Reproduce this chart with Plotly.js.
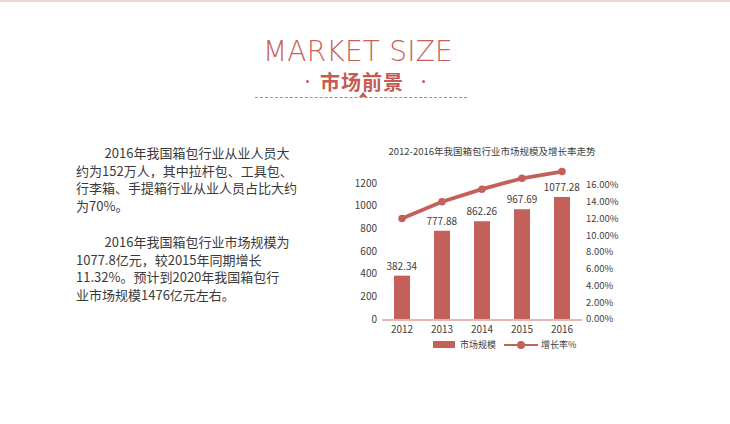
<!DOCTYPE html>
<html><head><meta charset="utf-8">
<script src="https://cdn.plot.ly/plotly-3.0.1.min.js"></script>
<style>
body{margin:0;background:#fff;}
#wrap{position:relative;width:730px;height:424px;overflow:hidden;background:#fff;font-family:"Noto Sans CJK SC","Noto Sans",sans-serif;}
#topline{position:absolute;left:0;top:0;width:730px;height:2px;background:#f3d4d2;}
#mk{position:absolute;left:263px;top:39px;font-family:"DejaVu Sans",sans-serif;font-weight:200;font-size:28px;letter-spacing:0.2px;color:#c8625b;line-height:26px;white-space:nowrap;}
#cn{position:absolute;left:320px;top:73px;font-size:20px;font-weight:bold;color:#c55b53;letter-spacing:1px;line-height:18px;}
.dot{position:absolute;width:3px;height:3px;border-radius:2px;background:#c55b53;top:80px;}
#dash{position:absolute;left:255px;top:97px;width:212px;border-top:1px dashed #d07a74;}
#tri{position:absolute;left:359px;top:92px;width:0;height:0;border-left:4px solid transparent;border-right:4px solid transparent;border-bottom:5px solid #c55b53;}
.para{position:absolute;left:76px;font-size:13px;line-height:17.7px;color:#3a3a3a;white-space:nowrap;}
#chart{position:absolute;left:0;top:0;width:730px;height:424px;}
.lg{position:absolute;font-size:9px;color:#404040;line-height:12px;white-space:nowrap;}
</style></head>
<body><div id="wrap">
<div id="chart"></div>
<div id="topline"></div>
<div id="mk">MARKET SIZE</div>
<div class="dot" style="left:306px"></div>
<div class="dot" style="left:422px"></div>
<div id="cn">市场前景</div>
<div id="dash"></div>
<div id="tri"></div>
<div class="para" id="p1" style="top:144px"></div>
<div class="para" id="p2" style="top:233px"></div>
<div style="position:absolute;left:433px;top:341px;width:22px;height:7px;background:#c3605a"></div>
<div class="lg" id="lg1" style="left:460px;top:339px"></div>
<div style="position:absolute;left:504px;top:344px;width:34px;height:2px;background:#c3605a"></div>
<div style="position:absolute;left:517px;top:341px;width:8px;height:8px;border-radius:4px;background:#c3605a"></div>
<div class="lg" id="lg2" style="left:541px;top:339px"></div>
</div>
<script>
// data
const years = ['2012','2013','2014','2015','2016'];
const marketSize = [382.34, 777.88, 862.26, 967.69, 1077.28];
const marketLabels = ['382.34','777.88','862.26','967.69','1077.28'];
const growthRate = [0.120, 0.140, 0.155, 0.168, 0.176];
const leftTicks = [0,200,400,600,800,1000,1200];
const rightTicks = [0,0.02,0.04,0.06,0.08,0.10,0.12,0.14,0.16];
const chartTitle = '2012-2016年我国箱包行业市场规模及增长率走势';
const seriesNames = ['市场规模','增长率%'];
const para1 = ['\u3000\u3000\u20092016年我国箱包行业从业人员大','约为152万人，其中拉杆包、工具包、','行李箱、手提箱行业从业人员占比大约','为70%。'];
const para2 = ['\u3000\u3000\u20092016年我国箱包行业市场规模为','1077.8亿元，较2015年同期增长','11.32%。预计到2020年我国箱包行','业市场规模1476亿元左右。'];

document.getElementById('p1').innerHTML = para1.join('<br>');
document.getElementById('p2').innerHTML = para2.join('<br>');
document.getElementById('lg1').textContent = seriesNames[0];
document.getElementById('lg2').textContent = seriesNames[1];

const red = '#c4605a';
const W = 730, H = 424;
const font = {family:'"Noto Sans CJK SC","Noto Sans",sans-serif', color:'#404040', size:10};

const traces = [
  {type:'bar', x:years, y:marketSize, name:seriesNames[0], marker:{color:red},
   text:marketLabels, textposition:'outside', constraintext:'none', textfont:{size:10,color:'#404040'}, cliponaxis:false,
   hoverinfo:'x+y'},
  {type:'scatter', mode:'lines+markers', x:years, y:growthRate, name:seriesNames[1], yaxis:'y2',
   line:{color:red, width:3.8}, marker:{color:red, size:7.5}, cliponaxis:false}
];
const yb = 319, yt = 170;
const layout = {
  width:W, height:H, margin:{l:0,r:0,t:0,b:0},
  paper_bgcolor:'rgba(0,0,0,0)', plot_bgcolor:'rgba(0,0,0,0)',
  font:font, showlegend:false, bargap:0.6,
  title:{text:chartTitle, x:492/W, xanchor:'center', y:1-152/H, yanchor:'middle', font:{size:9.5,color:'#404040'}},
  xaxis:{domain:[382/W, 582/W], type:'category', showgrid:false, zeroline:false,
         showline:true, linecolor:'#e8b5b1', linewidth:1.5, ticks:'', tickfont:{size:10,color:'#404040'}, fixedrange:true},
  yaxis:{domain:[1-yb/H, 1-yt/H], range:[0, 1200*(yb-yt)/136], tickvals:leftTicks, showgrid:false, zeroline:false,
         showline:false, ticks:'', tickfont:{size:10,color:'#404040'}, ticklabelstandoff:4},
  yaxis2:{overlaying:'y', side:'right', range:[0, 0.16*(yb-yt)/134], tickvals:rightTicks, tickformat:'.2%',
          showgrid:false, zeroline:false, showline:false, ticks:'', tickfont:{size:9.5,color:'#404040'}, ticklabelstandoff:3}
};
Plotly.newPlot('chart', traces, layout, {displayModeBar:false, staticPlot:true});
</script>
</body></html>
